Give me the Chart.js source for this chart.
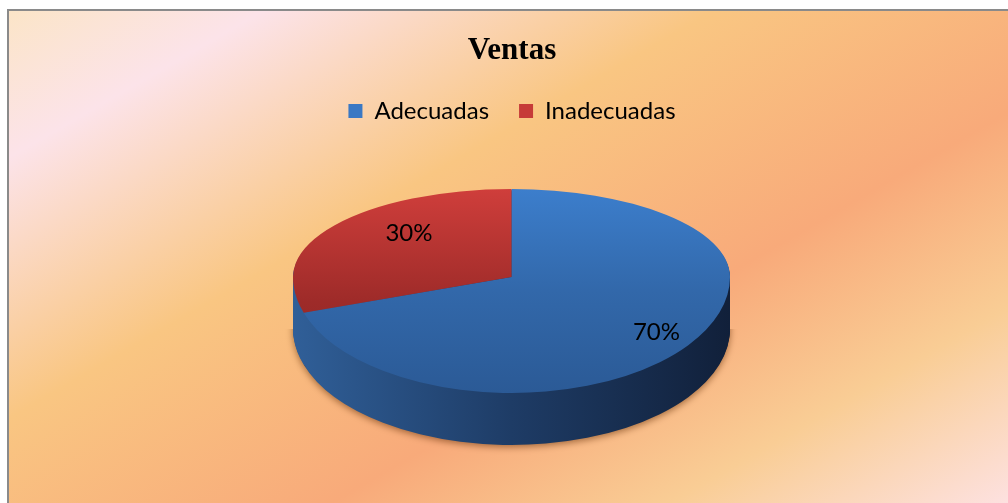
<!DOCTYPE html>
<html>
<head>
<meta charset="utf-8">
<script src="https://cdn.jsdelivr.net/npm/chart.js@4.4.1/dist/chart.umd.min.js"></script>
<style>
  html, body { margin: 0; padding: 0; background: #fff; }
</style>
</head>
<body>
<canvas id="ventasChart" width="1008" height="503"></canvas>
<script>
const categories = ['Adecuadas', 'Inadecuadas'];
const ventasValues = [70, 30];
const legendColors = ['#3a78c4', '#c63b38'];

// look of the tilted pie (screen pixels)
const CX = 511.5, JOIN = 277, RX = 218.5, RY_BACK = 88, RY_FRONT = 116, DEPTH = 52;
const topStops = [
    [[0, '#3c7ecc'], [0.5, '#3268aa'], [1, '#2b5a96']],
    [[0, '#cf3e3b'], [0.55, '#9e2b29'], [1, '#8a2522']]
];
// the reference shows the blue body under the whole front edge
const sideStops = [
    [[0, '#305f98'], [0.5, '#1e3c66'], [1, '#11203a']],
    [[0, '#305f98'], [0.5, '#1e3c66'], [1, '#11203a']]
];
const labelRadius = [[0.82, 0.81], [0.58, 0.85]];

let chartX = function (xs, cx, r) { return cx + (xs - CX) * r / RX; };

/**
 * draw every arc once, squashed into an ellipse, moved down by dy
 */
let drawLayer = function (chart, dy, stops, vertical, shadow) {
    const ctx = chart.ctx;
    const arcs = chart.getDatasetMeta(0).data;
    const r = arcs[0].outerRadius, cx = arcs[0].x, cy = arcs[0].y;
    const halves = [[0, JOIN + dy, RY_BACK], [JOIN + dy, chart.height, RY_FRONT]];
    halves.forEach(function (h, hi) {
        ctx.save();
        ctx.beginPath();
        ctx.rect(0, h[0], chart.width, h[1] - h[0]);
        ctx.clip();
        ctx.translate(CX, JOIN + dy);
        ctx.scale(RX / r, h[2] / r);
        ctx.translate(-cx, -cy);
        if (shadow && hi === 1) {
            ctx.shadowColor = 'rgba(90,40,0,0.55)';
            ctx.shadowBlur = 7;
            ctx.shadowOffsetY = 2;
        }
        let chartY = function (ys) { return cy + (ys - JOIN - dy) * r / h[2]; };
        arcs.forEach(function (arc, i) {
            let g;
            if (vertical) {
                g = ctx.createLinearGradient(cx, chartY(189 + dy), cx, chartY(393 + dy));
            } else {
                g = ctx.createLinearGradient(chartX(293, cx, r), cy, chartX(730, cx, r), cy);
            }
            stops[i].forEach(function (s) { g.addColorStop(s[0], s[1]); });
            const saved = arc.options;
            arc.options = Object.assign({}, saved, {backgroundColor: g, borderWidth: 0});
            arc.draw(ctx);
            arc.options = saved;
        });
        ctx.restore();
    });
};

const pie3d = {
    id: 'pie3d',
    beforeDraw: function (chart) {
        const ctx = chart.ctx;
        ctx.save();
        ctx.fillStyle = '#fff';
        ctx.fillRect(0, 0, chart.width, chart.height);
        const g = ctx.createLinearGradient(0, 0, 470, 814);
        g.addColorStop(0, '#fbe5c4');
        g.addColorStop(0.15, '#fce3e9');
        g.addColorStop(0.39, '#f9c682');
        g.addColorStop(0.64, '#f8aa7a');
        g.addColorStop(0.82, '#f9cd95');
        g.addColorStop(1, '#fde1e0');
        ctx.fillStyle = g;
        ctx.fillRect(9, 11, chart.width, chart.height);
        ctx.strokeStyle = '#8a8a8a';
        ctx.lineWidth = 2;
        ctx.strokeRect(8, 10, chart.width + 10, chart.height + 10);
        ctx.restore();
    },
    beforeDatasetsDraw: function (chart) {
        const ctx = chart.ctx;
        for (let d = DEPTH; d >= 1; d--) {
            drawLayer(chart, d, sideStops, false, d === DEPTH);
        }
        drawLayer(chart, 0, topStops, true, false);

        // percentage labels
        const arcs = chart.getDatasetMeta(0).data;
        const total = ventasValues.reduce(function (a, b) { return a + b; }, 0);
        ctx.save();
        ctx.fillStyle = '#000';
        ctx.font = '24px Lato';
        ctx.textAlign = 'center';
        ctx.textBaseline = 'middle';
        arcs.forEach(function (arc, i) {
            const mid = (arc.startAngle + arc.endAngle) / 2;
            const s = Math.sin(mid);
            const x = CX + Math.cos(mid) * labelRadius[i][0] * RX;
            const y = JOIN + s * labelRadius[i][1] * (s < 0 ? RY_BACK : RY_FRONT);
            ctx.fillText(Math.round(100 * ventasValues[i] / total) + '%', x, y);
        });
        ctx.restore();
        return false;
    }
};

Chart.defaults.color = '#000';

new Chart(document.getElementById('ventasChart').getContext('2d'), {
    type: 'pie',
    data: {
        labels: categories,
        datasets: [{
            data: ventasValues,
            backgroundColor: legendColors,
            borderWidth: 0
        }]
    },
    options: {
        responsive: false,
        animation: false,
        events: [],
        layout: {padding: {top: 25, left: 16, right: 0, bottom: 10}},
        plugins: {
            title: {
                display: true,
                text: 'Ventas',
                color: '#000',
                font: {family: 'Liberation Serif', size: 31, weight: 'bold', lineHeight: 1.0},
                padding: {top: 10, bottom: 3}
            },
            legend: {
                position: 'top',
                labels: {
                    boxWidth: 14,
                    boxHeight: 14,
                    padding: 30,
                    color: '#000',
                    font: {family: 'Lato', size: 24}
                }
            },
            tooltip: {enabled: false}
        }
    },
    plugins: [pie3d]
});
</script>
</body>
</html>
